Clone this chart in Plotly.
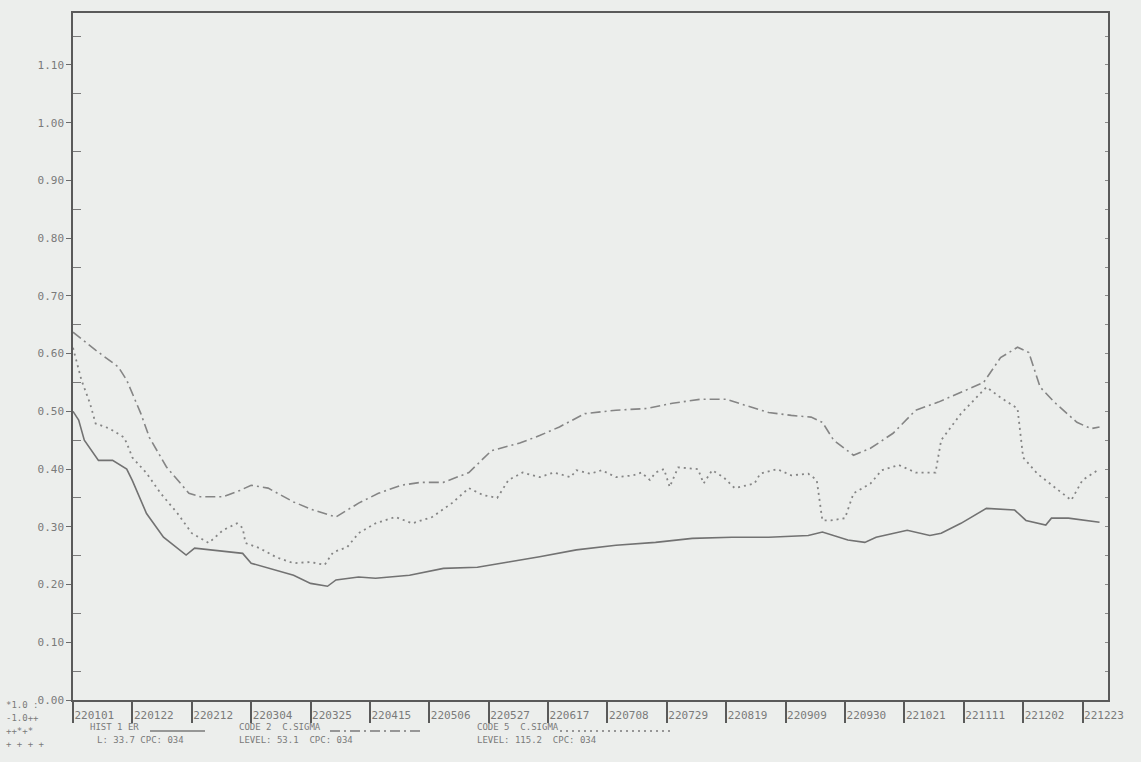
import plotly.graph_objects as go

# ---- axis labelling -------------------------------------------------------
tick_days = [0, 21, 42, 63, 84, 105, 126, 147, 168, 189, 210, 231, 252, 273,
             294, 315, 336, 357]
tick_labels = ["220101", "220122", "220212", "220304", "220325", "220415",
               "220506", "220527", "220617", "220708", "220729", "220819",
               "220909", "220930", "221021", "221111", "221202", "221223"]
half_steps = [0.05, 0.15, 0.25, 0.35, 0.45, 0.55, 0.65, 0.75, 0.85, 0.95,
              1.05, 1.15]

# ---- series (day of year, value) ------------------------------------------
solid_days = [0, 2, 4, 9, 14, 19, 21, 26, 32, 40, 43, 48, 60, 63, 72, 78, 84,
              90, 93, 101, 107, 119, 131, 143, 154, 165, 178, 192, 206, 219,
              233, 246, 260, 265, 274, 280, 284, 295, 303, 307, 314, 323, 333,
              337, 344, 346, 352, 363]
solid_vals = [0.50, 0.485, 0.45, 0.415, 0.415, 0.40, 0.38, 0.323, 0.282,
              0.251, 0.263, 0.26, 0.254, 0.237, 0.225, 0.216, 0.202, 0.197,
              0.208, 0.213, 0.211, 0.216, 0.228, 0.23, 0.239, 0.248, 0.26,
              0.268, 0.273, 0.28, 0.282, 0.282, 0.285, 0.291, 0.277, 0.273,
              0.282, 0.294, 0.285, 0.289, 0.306, 0.332, 0.329, 0.311, 0.303,
              0.315, 0.315, 0.308]

dashdot_days = [0, 8, 16, 19, 24, 27, 33, 41, 45, 53, 59, 63, 69, 78, 85, 93,
                101, 108, 116, 123, 131, 140, 148, 158, 165, 172, 181, 192,
                203, 212, 222, 231, 238, 246, 254, 261, 265, 269, 276, 282,
                290, 298, 306, 314, 322, 328, 334, 338, 342, 347, 355, 360,
                363]
dashdot_vals = [0.637, 0.606, 0.577, 0.554, 0.496, 0.455, 0.404, 0.358, 0.352,
                0.352, 0.363, 0.372, 0.367, 0.343, 0.329, 0.317, 0.341, 0.358,
                0.372, 0.377, 0.377, 0.394, 0.432, 0.445, 0.458, 0.473, 0.496,
                0.502, 0.505, 0.514, 0.521, 0.521, 0.51, 0.498, 0.493, 0.49,
                0.481, 0.45, 0.424, 0.436, 0.462, 0.502, 0.516, 0.533, 0.55,
                0.593, 0.611, 0.602, 0.542, 0.516, 0.481, 0.47, 0.473]

dot_days = [0, 3, 6, 8, 13, 18, 19, 21, 26, 31, 37, 42, 48, 53, 58, 60, 61,
            66, 72, 78, 84, 89, 92, 97, 101, 107, 114, 120, 127, 134, 140, 145,
            150, 154, 159, 165, 170, 176, 178, 183, 187, 192, 198, 201, 204,
            206, 209, 211, 214, 221, 223, 226, 230, 234, 241, 243, 249, 254,
            260, 263, 265, 268, 273, 276, 282, 286, 292, 298, 305, 307, 314,
            323, 328, 334, 336, 341, 353, 357, 363]
dot_vals = [0.61, 0.554, 0.514, 0.479, 0.47, 0.455, 0.445, 0.42, 0.393, 0.358,
            0.323, 0.289, 0.272, 0.294, 0.306, 0.298, 0.272, 0.263, 0.247,
            0.237, 0.239, 0.234, 0.256, 0.265, 0.289, 0.306, 0.317, 0.306,
            0.317, 0.341, 0.367, 0.355, 0.35, 0.381, 0.394, 0.386, 0.394,
            0.386, 0.398, 0.392, 0.398, 0.386, 0.389, 0.394, 0.381, 0.394,
            0.40, 0.369, 0.403, 0.40, 0.375, 0.398, 0.386, 0.367, 0.375,
            0.392, 0.40, 0.389, 0.392, 0.381, 0.311, 0.311, 0.315, 0.358,
            0.375, 0.398, 0.407, 0.394, 0.394, 0.45, 0.496, 0.542, 0.524,
            0.505, 0.42, 0.392, 0.346, 0.381, 0.40]

INK = "#7a7a7a"
AXIS = "#5a5a5a"
LINE = "#858585"
PAPER = "#eceeec"
MONO = "DejaVu Sans Mono"
Y_RANGE = [0, 1.19]
DASHDOT = "10px,4px,2px,4px"
DOT = "2px,4px"

fig = go.Figure()
fig.add_trace(go.Scatter(x=solid_days, y=solid_vals, mode="lines",
                         line=dict(color="#727272", width=1.6)))
fig.add_trace(go.Scatter(x=dashdot_days, y=dashdot_vals, mode="lines",
                         yaxis="y2",
                         line=dict(color=LINE, width=1.6, dash=DASHDOT)))
fig.add_trace(go.Scatter(x=dot_days, y=dot_vals, mode="lines",
                         yaxis="y3",
                         line=dict(color=LINE, width=1.8, dash=DOT)))

fig.update_layout(
    width=1141, height=762,
    margin=dict(l=73, r=33, t=13, b=62),
    paper_bgcolor=PAPER, plot_bgcolor=PAPER,
    showlegend=False,
    font=dict(family=MONO, color=INK),
    xaxis=dict(
        range=[0, 366], tickmode="array", tickvals=tick_days,
        ticktext=tick_labels, ticks="outside", ticklen=21, tickwidth=1.5,
        tickcolor=AXIS, ticklabelposition="outside right",
        ticklabelstandoff=4,
        tickfont=dict(family=MONO, size=11, color=INK),
        showgrid=False, zeroline=False, showline=True, linecolor=AXIS,
        linewidth=1.5, mirror=True,
    ),
    # left axis: labelled outside ticks every 0.10
    yaxis=dict(
        range=Y_RANGE, dtick=0.1, tick0=0, tickformat=".2f",
        ticks="outside", ticklen=5, tickcolor="#6a6a6a",
        tickfont=dict(family=MONO, size=11, color=INK),
        showgrid=False, zeroline=False, showline=True, linecolor=AXIS,
        linewidth=1.5, mirror=True,
    ),
    # left axis: inside half-step ticks
    yaxis2=dict(
        overlaying="y", side="left", matches="y", range=Y_RANGE,
        tickmode="array", tickvals=half_steps, ticks="inside", ticklen=8,
        tickcolor="#7a7a7a", showticklabels=False, showgrid=False,
        zeroline=False, showline=False,
    ),
    # right axis: short inside ticks every 0.05
    yaxis3=dict(
        overlaying="y", side="right", matches="y", range=Y_RANGE,
        dtick=0.05, tick0=0, ticks="inside", ticklen=3, tickcolor="#8a8a8a",
        showticklabels=False, showgrid=False, zeroline=False, showline=False,
    ),
)


def px(x):
    return (x - 73) / 1035.0


def py(y):
    return (700 - y) / 687.0


legend_rows = [
    (88, 727, "HIST 1 ER"), (237, 727, "CODE 2  C.SIGMA"),
    (475, 727, "CODE 5  C.SIGMA"),
    (95, 740, "L: 33.7 CPC: 034"), (237, 740, "LEVEL: 53.1  CPC: 034"),
    (475, 740, "LEVEL: 115.2  CPC: 034"),
    (4, 705, "*1.0 :"), (4, 718, "-1.0++"), (4, 731, "++*+*"),
    (4, 744, "+ + + +"),
]
for x0, y0, txt in legend_rows:
    fig.add_annotation(x=px(x0), y=py(y0), xref="paper", yref="paper",
                       text=txt, showarrow=False, xanchor="left",
                       yanchor="middle",
                       font=dict(family=MONO, size=9, color=INK))

# legend line samples
samples = [(150, 205, 731, "solid"), (330, 420, 731, DASHDOT),
           (560, 670, 731, DOT)]
for x0, x1, y0, d in samples:
    fig.add_shape(type="line", xref="paper", yref="paper",
                  x0=px(x0), x1=px(x1), y0=py(y0), y1=py(y0),
                  line=dict(color=INK, width=1.3, dash=d))

fig.write_html("out.html")
